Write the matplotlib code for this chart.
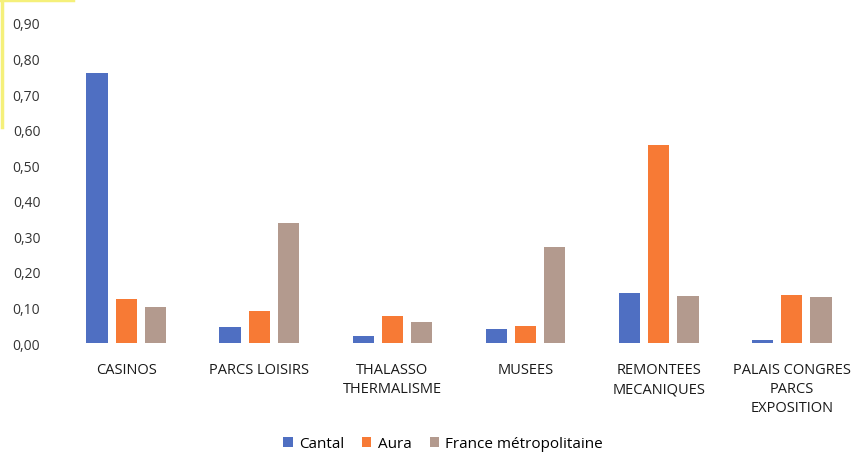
import numpy as np
import matplotlib.pyplot as plt
from matplotlib.lines import Line2D

categories = ['CASINOS', 'PARCS LOISIRS', 'THALASSO\nTHERMALISME', 'MUSEES',
              'REMONTEES\nMECANIQUES', 'PALAIS CONGRES\nPARCS\nEXPOSITION']
cantal = [0.76, 0.044, 0.02, 0.038, 0.14, 0.008]
aura = [0.125, 0.089, 0.075, 0.049, 0.558, 0.136]
france = [0.10, 0.336, 0.058, 0.27, 0.133, 0.13]
series_names = ['Cantal', 'Aura', 'France métropolitaine']
yticks = np.arange(0, 0.91, 0.1)

plt.rcParams['font.family'] = ['Open Sans', 'DejaVu Sans']

fig = plt.figure(figsize=(8.54, 4.56), dpi=100)
ax = fig.add_axes([0.07, 0.2456, 0.935, 0.702])

x = np.arange(len(categories))
w = 0.16
step = 0.22
colors = ['#4f6fc2', '#f77a35', '#b39a8e']
for i, (vals, name) in enumerate(zip([cantal, aura, france], series_names)):
    ax.bar(x + (i - 1) * step, vals, w, color=colors[i], label=name)

ax.set_xlim(-0.5, len(categories) - 0.5)
ax.set_ylim(0, 0.9)
ax.set_yticks(yticks)
ax.set_yticklabels([('%.2f' % v).replace('.', ',') for v in yticks],
                   fontsize=10, color='#333333')
ax.set_xticks(x)
ax.set_xticklabels(categories, fontsize=10.5, color='#1a1a1a', linespacing=1.35)
ax.tick_params(axis='y', length=0, pad=14)
ax.tick_params(axis='x', length=0, pad=14)
for s in ax.spines.values():
    s.set_visible(False)

ax.legend(loc='center', bbox_to_anchor=(0.48, -0.315), ncol=3, frameon=False,
          fontsize=11, handlelength=0.6, handleheight=0.6, columnspacing=1.2,
          handletextpad=0.4)

# yellow scan edge, top-left
fig.add_artist(Line2D([0.002, 0.002], [1.0, 0.72], color='#f5f07a', lw=2.5))
fig.add_artist(Line2D([0.0, 0.085], [0.998, 0.998], color='#f5f07a', lw=2.5))

fig.savefig('out.png', dpi=100)
